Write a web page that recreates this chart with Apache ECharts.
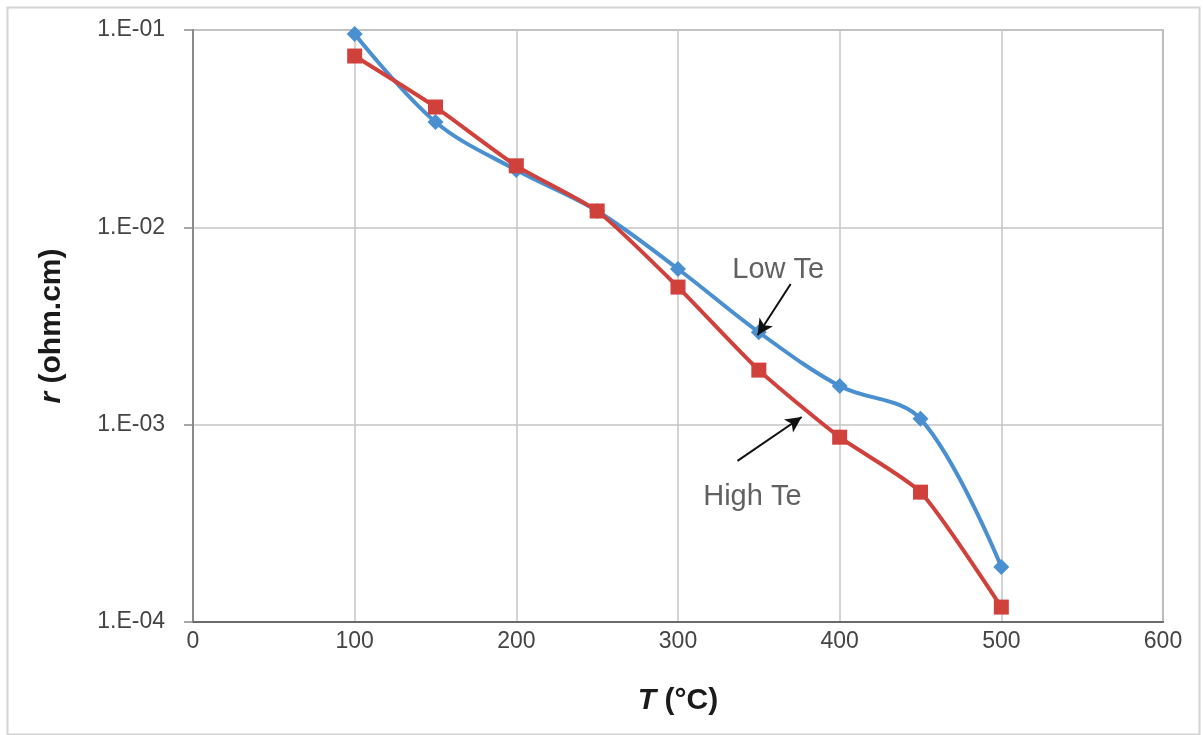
<!DOCTYPE html>
<html>
<head>
<meta charset="utf-8">
<script src="https://cdn.jsdelivr.net/npm/echarts@6/dist/echarts.min.js"></script>
<style>
html,body{margin:0;padding:0;background:#fff;}
#c{width:1203px;height:735px;}
</style>
</head>
<body>
<div id="c"></div>
<script>
var temps = [100, 150, 200, 250, 300, 350, 400, 450, 500];
var lowTe = [0.0955, 0.0342, 0.0195, 0.0121, 0.00615, 0.00294, 0.00157, 0.00107, 0.00019];
var highTe = [0.0738, 0.0407, 0.0205, 0.0121, 0.00498, 0.00189, 0.000864, 0.000455, 0.000119];
var xTicks = [0, 100, 200, 300, 400, 500, 600];
var yTickLabels = ['1.E-04', '1.E-03', '1.E-02', '1.E-01'];
var annotations = [
  {name: 'Low Te', pos: [362, 0.00608], arrowFrom: [369.7, 0.00516], arrowTo: [349.2, 0.00284]},
  {name: 'High Te', pos: [346, 0.00043], arrowFrom: [336.8, 0.000655], arrowTo: [376.5, 0.001094]}
];

var font = '"Liberation Sans", Arial, sans-serif';
function pairs(xs, ys){ return xs.map(function(x,i){ return [x, ys[i]]; }); }

var chart = echarts.init(document.getElementById('c'));
chart.setOption({
  animation: false,
  backgroundColor: '#fff',
  graphic: [{
    type: 'rect', left: 5, top: 5, shape: {width: 1192, height: 727},
    style: {fill: 'none', stroke: '#d4d4d4', lineWidth: 2}, silent: true
  }],
  grid: {left: 193, right: 40, top: 30, bottom: 113, show: true, borderColor: '#8a8a8a', borderWidth: 1.5},
  xAxis: {
    type: 'value', min: 0, max: 600, interval: 100,
    name: '{i|T}{b| (°C)}', nameLocation: 'middle', nameGap: 64,
    nameTextStyle: {rich: {
      i: {fontFamily: font, fontSize: 30, fontWeight: 'bold', fontStyle: 'italic', color: '#1a1a1a'},
      b: {fontFamily: font, fontSize: 30, fontWeight: 'bold', color: '#1a1a1a'}
    }},
    axisLine: {show: true, lineStyle: {color: '#6a6a6a', width: 2}},
    axisTick: {show: false},
    axisLabel: {fontFamily: font, fontSize: 23, color: '#444', margin: 8,
      formatter: function(v){ return xTicks.indexOf(v) >= 0 ? String(v) : ''; }},
    splitLine: {show: true, lineStyle: {color: '#c4c4c4', width: 1.5}}
  },
  yAxis: {
    type: 'log', logBase: 10, min: 1e-4, max: 1e-1,
    name: '{i|r}{b| (ohm.cm)}', nameLocation: 'middle', nameGap: 126, nameRotate: 90,
    nameTextStyle: {rich: {
      i: {fontFamily: font, fontSize: 30, fontWeight: 'bold', fontStyle: 'italic', color: '#1a1a1a'},
      b: {fontFamily: font, fontSize: 30, fontWeight: 'bold', color: '#1a1a1a'}
    }},
    axisLine: {show: true, lineStyle: {color: '#8a8a8a', width: 2}},
    axisTick: {show: true, length: 9, lineStyle: {color: '#8a8a8a', width: 1.5}},
    axisLabel: {fontFamily: font, fontSize: 23, color: '#444', margin: 28,
      formatter: function(v){
        var e = Math.round(Math.log10(v));
        return yTickLabels[e + 4] || '';
      }},
    splitLine: {show: true, lineStyle: {color: '#c4c4c4', width: 1.5}}
  },
  series: [
    {
      name: 'Low Te', type: 'line', data: pairs(temps, lowTe), smooth: 0.35,
      symbol: 'diamond', symbolSize: 16,
      lineStyle: {color: '#4a8fd0', width: 4},
      itemStyle: {color: '#4a8fd0'},
      z: 3
    },
    {
      name: 'High Te', type: 'line', data: pairs(temps, highTe), smooth: 0.2,
      symbol: 'rect', symbolSize: 15,
      lineStyle: {color: '#d0413c', width: 4},
      itemStyle: {color: '#d0413c'},
      z: 4
    },
    {
      type: 'scatter', symbolSize: 0, silent: true, z: 6,
      data: annotations.map(function(a){ return {value: a.pos, name: a.name}; }),
      label: {show: true, position: 'inside', formatter: '{b}', fontFamily: font, fontSize: 29, color: '#3a3a3a'},
      markLine: {
        silent: true, symbol: ['none', 'arrow'], symbolSize: [12, 16],
        lineStyle: {color: '#111', width: 2, type: 'solid'},
        label: {show: false},
        data: annotations.map(function(a){ return [{coord: a.arrowFrom}, {coord: a.arrowTo}]; })
      }
    }
  ]
});
</script>
</body>
</html>
